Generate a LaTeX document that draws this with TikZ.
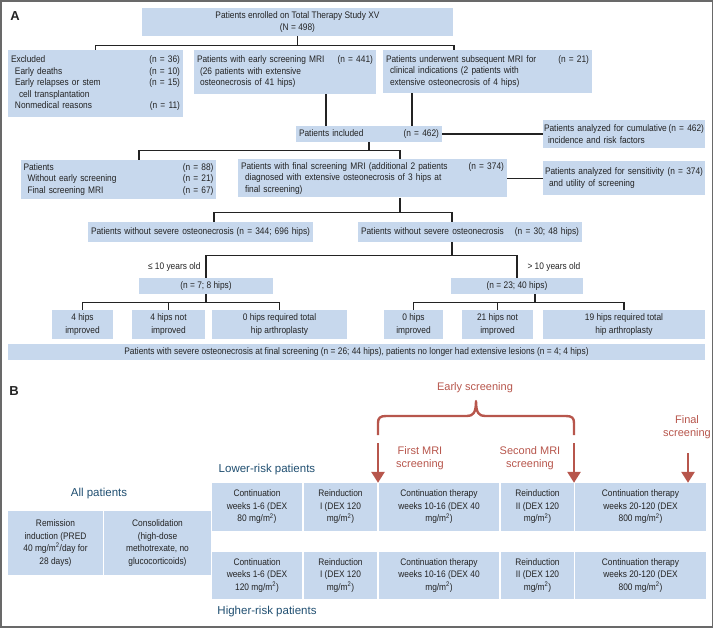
\documentclass[tikz,border=0pt]{standalone}
\usepackage{fontspec}
\setmainfont{Liberation Sans}
\newfontfamily\narrowsans{Liberation Sans}[FakeStretch=0.88]
\usetikzlibrary{arrows.meta}
\definecolor{boxblue}{RGB}{199,216,237}
\definecolor{ink}{RGB}{35,35,35}
\definecolor{rust}{RGB}{183,86,76}
\definecolor{navy}{RGB}{31,78,112}
\definecolor{framegray}{RGB}{105,105,105}
\begin{document}
\begin{tikzpicture}[x=1pt,y=-1pt,
  box/.style={fill=boxblue,text=ink,inner sep=0pt,font=\narrowsans\fontsize{9.5}{12.5}\selectfont,align=center},
  listbox/.style={box,align=left,text width=#1,font=\narrowsans\fontsize{9.5}{11.5}\selectfont},
  sz/.style 2 args={minimum width=#1,minimum height=#2},
  conn/.style={draw=ink,line width=1.2pt},
  tag/.style={text=ink,font=\narrowsans\fontsize{9.5}{11}\selectfont},
  panel/.style={text=ink,font=\fontsize{13}{13}\selectfont\bfseries},
  group/.style={text=navy,font=\fontsize{11.5}{13}\selectfont},
  cue/.style={text=rust,font=\fontsize{11}{13}\selectfont,align=center},
  shot/.style={draw=rust,line width=2.6pt,-{Triangle[width=13pt,length=11pt]}}]
\useasboundingbox (0,0) rectangle (714,628);
\draw[draw=framegray,line width=1.5pt] (1,0.8) rectangle (712.4,627);
\node[panel] (labA) at (15,16.5) {A};
\node[box,sz={311}{28}] (enrolled) at (297.5,22) {Patients enrolled on Total Therapy Study XV\\(N = 498)};
\node[listbox=169,sz={175}{67}] (excluded) at (95.5,83.5) {Excluded\hfill(n = 36)\\\hspace*{4pt}Early deaths\hfill(n = 10)\\\hspace*{4pt}Early relapses or stem\hfill(n = 15)\\\hspace*{8pt}cell transplantation\\\hspace*{4pt}Nonmedical reasons\hfill(n = 11)};
\node[listbox=176,sz={182}{44}] (early) at (285,72) {Patients with early screening MRI\hfill(n = 441)\\\hspace*{3pt}(26 patients with extensive\\\hspace*{3pt}osteonecrosis of 41 hips)};
\node[listbox=203,sz={209}{43}] (later) at (487.5,71.5) {Patients underwent subsequent MRI for\hfill(n = 21)\\\hspace*{4pt}clinical indications (2 patients with\\\hspace*{4pt}extensive osteonecrosis of 4 hips)};
\node[listbox=140,sz={146}{16}] (included) at (369,134) {Patients included\hfill(n = 462)};
\node[listbox=160,sz={162}{28}] (cumul) at (624,134) {Patients analyzed for cumulative\hfill(n = 462)\\\hspace*{4pt}incidence and risk factors};
\node[listbox=190,sz={195}{39}] (p88) at (118.5,179.5) {Patients\hfill(n = 88)\\\hspace*{4pt}Without early screening\hfill(n = 21)\\\hspace*{4pt}Final screening MRI\hfill(n = 67)};
\node[listbox=263,sz={269}{38}] (final) at (372.5,178.5) {Patients with final screening MRI (additional 2 patients\hfill(n = 374)\\\hspace*{4pt}diagnosed with extensive osteonecrosis of 3 hips at\\\hspace*{4pt}final screening)};
\node[listbox=158,sz={162}{34}] (sens) at (624,178) {Patients analyzed for sensitivity\hfill(n = 374)\\\hspace*{4pt}and utility of screening};
\node[listbox=219,sz={225}{20}] (nosev) at (200.5,232) {Patients without severe osteonecrosis\hfill(n = 344; 696 hips)};
\node[listbox=218,sz={224}{20}] (nosevb) at (470,232) {Patients without severe osteonecrosis\hfill(n = 30; 48 hips)};
\node[box,sz={134}{16}] (young) at (206,286) {(n = 7; 8 hips)};
\node[box,sz={132}{16}] (old) at (517,286) {(n = 23; 40 hips)};
\node[tag,anchor=east] (youngtag) at (204,267) {≤ 10 years old};
\node[tag,anchor=west] (oldtag) at (524,267) {> 10 years old};
\node[box,sz={61}{29}] (ya) at (82.5,324.5) {4 hips\\improved};
\node[box,sz={73}{29}] (yb) at (168.5,324.5) {4 hips not\\improved};
\node[box,sz={135}{29}] (yc) at (279.5,324.5) {0 hips required total\\hip arthroplasty};
\node[box,sz={59}{29}] (oa) at (413.5,324.5) {0 hips\\improved};
\node[box,sz={71}{29}] (ob) at (497.5,324.5) {21 hips not\\improved};
\node[box,sz={162}{29}] (oc) at (624,324.5) {19 hips required total\\hip arthroplasty};
\node[box,sz={697}{16}] (severe) at (356.5,352) {Patients with severe osteonecrosis at final screening (n = 26; 44 hips), patients no longer had extensive lesions (n = 4; 4 hips)};
\draw[conn] (enrolled.south) -- ++(0,9) coordinate (s1);
\draw[conn] (excluded.north) |- (s1) -| ([xshift=-33.5pt]later.north);
\coordinate (e1) at ([xshift=41pt]early.south);
\coordinate (l1) at ([xshift=-75.5pt]later.south);
\draw[conn] (e1) -- (e1 |- included.north);
\draw[conn] (l1) -- (l1 |- included.north);
\draw[conn] (included) -- (cumul);
\draw[conn] (included.south) -- ++(0,8) coordinate (s2);
\draw[conn] ([xshift=20.5pt]p88.north) |- (s2) -| ([xshift=27.5pt]final.north);
\draw[conn] (final.east) -- (final.east -| sens.west);
\draw[conn] ([xshift=27.5pt]final.south) -- ++(0,15) coordinate (s3);
\draw[conn] ([xshift=13.5pt]nosev.north) |- (s3) -| ([xshift=-18pt]nosevb.north);
\draw[conn] ([xshift=-18pt]nosevb.south) -- ++(0,13) coordinate (s4);
\draw[conn] (young.north) |- (s4) -| (old.north);
\draw[conn] (young.south) -- ++(0,8) coordinate (s5);
\draw[conn] (ya.north) |- (s5) -| (yc.north);
\draw[conn] (yb.north) -- (yb.north |- s5);
\draw[conn] ([xshift=18pt]old.south) -- ++(0,8) coordinate (s6);
\draw[conn] (oa.north) |- (s6) -| (oc.north);
\draw[conn] (ob.north) -- (ob.north |- s6);
\node[panel] (labB) at (14,391) {B};
\node[group] (allpat) at (99,494) {All patients};
\node[group] (lowrisk) at (267,470) {Lower-risk patients};
\node[group] (highrisk) at (267,612) {Higher-risk patients};
\node[box,sz={95}{64}] (remission) at (55.5,543) {Remission\\induction (PRED\\40 mg/m\textsuperscript{2}/day for\\28 days)};
\node[box,sz={107}{64}] (consol) at (157.5,543) {Consolidation\\(high-dose\\methotrexate, no\\glucocorticoids)};
\node[box,sz={90}{48}] (lc1) at (257,507) {Continuation\\weeks 1-6 (DEX\\80 mg/m\textsuperscript{2})};
\node[box,sz={73}{48}] (lr1) at (340.5,507) {Reinduction\\I (DEX 120\\mg/m\textsuperscript{2})};
\node[box,sz={120}{48}] (lc2) at (439,507) {Continuation therapy\\weeks 10-16 (DEX 40\\mg/m\textsuperscript{2})};
\node[box,sz={73}{48}] (lr2) at (537.5,507) {Reinduction\\II (DEX 120\\mg/m\textsuperscript{2})};
\node[box,sz={131}{48}] (lc3) at (640.5,507) {Continuation therapy\\weeks 20-120 (DEX\\800 mg/m\textsuperscript{2})};
\node[box,sz={90}{47}] (hc1) at (257,575.5) {Continuation\\weeks 1-6 (DEX\\120 mg/m\textsuperscript{2})};
\node[box,sz={73}{47}] (hr1) at (340.5,575.5) {Reinduction\\I (DEX 120\\mg/m\textsuperscript{2})};
\node[box,sz={120}{47}] (hc2) at (439,575.5) {Continuation therapy\\weeks 10-16 (DEX 40\\mg/m\textsuperscript{2})};
\node[box,sz={73}{47}] (hr2) at (537.5,575.5) {Reinduction\\II (DEX 120\\mg/m\textsuperscript{2})};
\node[box,sz={131}{47}] (hc3) at (640.5,575.5) {Continuation therapy\\weeks 20-120 (DEX\\800 mg/m\textsuperscript{2})};
\node[cue] (earlytag) at (475,388) {Early screening};
\node[cue] (firsttag) at (420,458) {First MRI\\screening};
\node[cue] (secondtag) at (530,458) {Second MRI\\screening};
\node[cue] (finaltag) at (687,427) {Final\\screening};
\draw[draw=rust,line width=2.4pt,line join=round] (378,435) -- (378,423) .. controls (378,418) and (380,416) .. (386,416) -- (467,416) .. controls (473,416) and (476,413) .. (476,401) .. controls (476,413) and (479,416) .. (485,416) -- (566,416) .. controls (572,416) and (574,418) .. (574,423) -- (574,435);
\coordinate (mri1) at (378,443);
\coordinate (mri2) at (574,443);
\coordinate (mri3) at (688,453);
\draw[shot] (mri1) -- (mri1 |- lc2.north);
\draw[shot] (mri2) -- (mri2 |- lc3.north);
\draw[shot] (mri3) -- (mri3 |- lc3.north);
\end{tikzpicture}
\end{document}
